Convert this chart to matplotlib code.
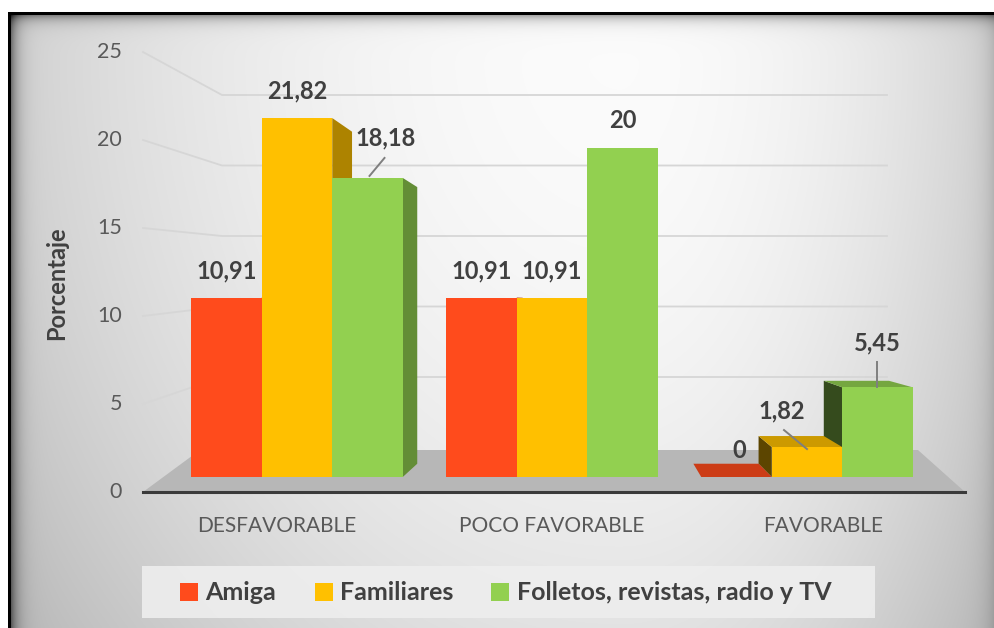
import numpy as np
import matplotlib.pyplot as plt
from matplotlib.patches import Polygon, Rectangle
from matplotlib.colors import to_rgb

plt.rcParams['font.family'] = ['Lato', 'DejaVu Sans']

# datos
categorias = ["DESFAVORABLE", "POCO FAVORABLE", "FAVORABLE"]
series = ["Amiga", "Familiares", "Folletos, revistas, radio y TV"]
amiga = [10.91, 10.91, 0]
familiares = [21.82, 10.91, 1.82]
folletos = [18.18, 20, 5.45]
ticks = [0, 5, 10, 15, 20, 25]

valores = [amiga, familiares, folletos]
colores = ["#FF4B1C", "#FFC000", "#92D050"]

W, H = 995, 628
fig = plt.figure(figsize=(W / 100, H / 100), dpi=100)

# fondo degradado (en pixeles)
bg = fig.add_axes([0, 0, 1, 1])
bg.set_xlim(0, W)
bg.set_ylim(H, 0)
bg.axis("off")
xx, yy = np.meshgrid(np.arange(W) + 0.5, np.arange(H) + 0.5)
nx = np.where(xx < 620, (xx - 620) / 650, (xx - 620) / 400)
ny = (yy - 40) / 600
v = 0.985 - 0.19 * nx ** 2 - 0.10 * ny ** 2
v -= 0.35 * np.exp(-np.clip(yy - 15, 0, None) / 6)
v -= 0.40 * np.exp(-np.clip(xx - 11, 0, None) / 7)
v -= 0.12 * np.exp(-(W - xx) / 10)
v = np.clip(v, 0, 1)
v[(yy < 12.5) | (xx < 8)] = 1.0
v[(yy >= 12.5) & (yy < 15.5) & (xx >= 8)] = 0.0
v[(xx >= 8) & (xx < 11) & (yy >= 12.5)] = 0.0
bg.imshow(np.dstack([v, v, v]), extent=(0, W, H, 0), interpolation="bilinear")

# ejes del grafico
ax = fig.add_axes([0, 0, 1, 1])
ax.patch.set_alpha(0)
x0px, sx = 297, 255.0
y0px, sy = 477, 16.45
ax.set_xlim(-x0px / sx, (W - x0px) / sx)
ax.set_ylim((y0px - H) / sy, y0px / sy)
ax.axis("off")


def px(x):
    return (x - x0px) / sx


def py(y):
    return (y0px - y) / sy


# lineas de cuadricula en perspectiva
for t in ticks[1:]:
    yf = 492 - 17.6 * t
    yb = 447.5 - 14.1 * t
    ax.plot([px(143), px(222), px(887)], [py(yf), py(yb), py(yb)],
            color="#d6d6d6", lw=1.3, zorder=1)
for t in ticks:
    ax.text(px(122), py(492 - 17.6 * t), str(t), ha="right", va="center",
            fontsize=15.5, color="#595959")

# piso
ax.add_patch(Polygon([(px(143), py(492)), (px(965), py(492)),
                      (px(918), py(450)), (px(200), py(450))],
                     closed=True, facecolor="#b7b7b7", edgecolor="none", zorder=2))
ax.plot([px(143), px(965)], [py(492), py(492)], color="#3a3a3a", lw=2.2, zorder=2)

# barras con caras laterales
w = 70.5 / sx
vp = (px(596), py(300))
tdep = 0.075


def oscurecer(c, f):
    r, g, b = to_rgb(c)
    return (r * f, g * f, b * f)


def atras(p):
    return (p[0] + tdep * (vp[0] - p[0]), p[1] + tdep * (vp[1] - p[1]))


barras = []
for j, vals in enumerate(valores):
    for i, h in enumerate(vals):
        xc = i + (j - 1) * w
        barras.append((abs(xc - vp[0]), xc, h, colores[j]))

barras.sort(key=lambda b: -b[0])
for k, (_, xc, h, c) in enumerate(barras):
    xa, xb = xc - w / 2, xc + w / 2
    z = 3 + k * 0.01
    if xb < vp[0]:
        pts = [(xb, 0), (xb, h), atras((xb, h)), atras((xb, 0))]
        ax.add_patch(Polygon(pts, closed=True, facecolor=oscurecer(c, 0.68),
                             edgecolor="none", zorder=z))
    if xa > vp[0]:
        pts = [(xa, 0), (xa, h), atras((xa, h)), atras((xa, 0))]
        ax.add_patch(Polygon(pts, closed=True, facecolor=oscurecer(c, 0.36),
                             edgecolor="none", zorder=z))
    if h < vp[1]:
        pts = [(xa, h), (xb, h), atras((xb, h)), atras((xa, h))]
        ax.add_patch(Polygon(pts, closed=True, facecolor=oscurecer(c, 0.8),
                             edgecolor="none", zorder=z + 0.005))

for j, vals in enumerate(valores):
    xs = np.arange(len(categorias)) + (j - 1) * w
    ax.bar(xs, vals, width=w, color=colores[j], linewidth=0, zorder=10)

# etiquetas de datos (desplazamientos en pixeles)
desp = {(2, 0): (18, -40, (17, -20), (2, -2)),
        (1, 2): (-25, -36, (-23, -17), (0, 2)),
        (2, 2): (0, -44, (0, -25), (0, 0))}
for j, vals in enumerate(valores):
    for i, h in enumerate(vals):
        xc = i + (j - 1) * w
        dx, dy, l0, l1 = desp.get((j, i), (0, -27, None, None))
        if (j, i) == (0, 2):
            dx, dy = 3, -27
        txt = f"{h:g}".replace(".", ",")
        ax.text(xc + dx / sx, h - dy / sy, txt, ha="center", va="center",
                fontsize=17, fontweight="bold", color="#404040", zorder=12)
        if l0 is not None:
            ax.plot([xc + l0[0] / sx, xc + l1[0] / sx], [h - l0[1] / sy, h - l1[1] / sy],
                    color="#7f7f7f", lw=1.4, zorder=12)

# categorias
for xcat, cat in zip([277, 552, 823], categorias):
    ax.text(px(xcat), py(526), cat, ha="center", va="center", fontsize=15,
            color="#595959")

ax.text(px(57), py(283), "Porcentaje", rotation=90, ha="center", va="center",
        fontsize=17, fontweight="bold", color="#404040")

# leyenda
ax.add_patch(Rectangle((px(142), py(618)), (875 - 142) / sx, (618 - 566) / sy,
                       facecolor="#eeeeee", edgecolor="none", alpha=0.9, zorder=1))
for xs_, xt, nombre, c in zip([180, 315, 491], [205, 340, 517], series, colores):
    ax.add_patch(Rectangle((px(xs_), py(601)), 18 / sx, 18 / sy,
                           facecolor=c, edgecolor="none", zorder=2))
    ax.text(px(xt), py(592), nombre, ha="left", va="center", fontsize=18,
            fontweight="bold", color="#404040")

fig.savefig("out.png", dpi=100)
